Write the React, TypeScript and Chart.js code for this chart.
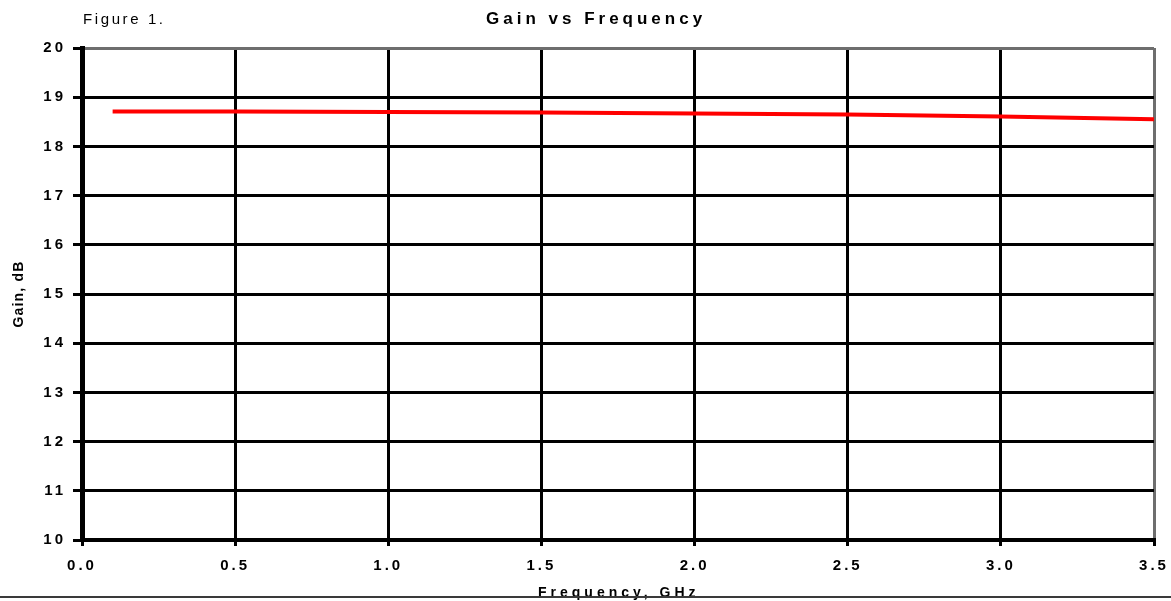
import React, { useEffect, useRef } from 'react';
import { Chart, registerables } from 'chart.js';

Chart.register(...registerables);

// ---- data ----
const frequencies = [0.1, 0.5, 1.0, 1.5, 2.0, 2.5, 3.0, 3.5];
const gains = [18.71, 18.71, 18.7, 18.69, 18.67, 18.65, 18.61, 18.55];
const xTickValues = [0, 0.5, 1.0, 1.5, 2.0, 2.5, 3.0, 3.5];
const yTickValues = [10, 11, 12, 13, 14, 15, 16, 17, 18, 19, 20];
const chartTitle = 'Gain vs Frequency';
const figureLabel = 'Figure 1.';
const xAxisTitle = 'Frequency, GHz';
const yAxisTitle = 'Gain, dB';

const FONT = '"Liberation Sans", Arial, Helvetica, sans-serif';

const textPlugin = {
  id: 'customText',
  beforeDraw(chart: any) {
    chart.ctx.letterSpacing = '3px';
  },
  afterDraw(chart: any) {
    const ctx = chart.ctx as CanvasRenderingContext2D & { letterSpacing: string };
    const { left, top, bottom } = chart.chartArea;
    ctx.save();
    ctx.fillStyle = '#000';
    ctx.textAlign = 'left';
    ctx.textBaseline = 'alphabetic';

    // Figure label
    ctx.letterSpacing = '2.6px';
    ctx.font = `15px ${FONT}`;
    ctx.fillText(figureLabel, left + 1, 24);

    // Title
    ctx.letterSpacing = '4px';
    ctx.font = `bold 17px ${FONT}`;
    ctx.fillText(chartTitle, 486, 24);

    // X axis title
    ctx.letterSpacing = '4px';
    ctx.font = `bold 14px ${FONT}`;
    ctx.fillText(xAxisTitle, 538, 597);

    // Bottom rule
    ctx.fillStyle = '#3a3a3a';
    ctx.fillRect(0, 596, chart.width, 2);

    // Y axis title
    ctx.fillStyle = '#000';
    ctx.letterSpacing = '1.2px';
    ctx.font = `bold 14px ${FONT}`;
    ctx.translate(22.5, (top + bottom) / 2);
    ctx.rotate(-Math.PI / 2);
    ctx.textAlign = 'center';
    ctx.fillText(yAxisTitle, 0, 0);
    ctx.restore();
    ctx.letterSpacing = '0px';
  },
};

export default function App() {
  const canvasRef = useRef<HTMLCanvasElement | null>(null);

  useEffect(() => {
    const canvas = canvasRef.current;
    if (!canvas) return;
    const chart = new Chart(canvas, {
      type: 'line',
      data: {
        datasets: [
          {
            label: 'Gain',
            data: frequencies.map((f, i) => ({ x: f, y: gains[i] })),
            borderColor: '#ff0000',
            borderWidth: 4,
            pointRadius: 0,
            fill: false,
            tension: 0,
          },
        ],
      },
      options: {
        animation: false,
        responsive: false,
        maintainAspectRatio: false,
        layout: { padding: { top: 48, right: 17, left: 0, bottom: 0 } },
        plugins: {
          legend: { display: false },
          title: { display: false },
          tooltip: { enabled: false },
        },
        scales: {
          x: {
            type: 'linear',
            min: 0,
            max: 3.5,
            afterFit: (scale: any) => {
              scale.height = 61;
              scale.paddingLeft = 0;
              scale.paddingRight = 0;
            },
            afterBuildTicks: (scale: any) => {
              scale.ticks = xTickValues.map((v) => ({ value: v }));
            },
            ticks: {
              color: '#000',
              font: { family: FONT, size: 15, weight: 'bold' },
              padding: 11,
              maxRotation: 0,
              autoSkip: false,
              callback: (v: any) => Number(v).toFixed(1),
            },
            grid: {
              color: (c: any) => (c.tick && c.tick.value === 3.5 ? '#6e6e6e' : '#000'),
              lineWidth: 3,
              tickLength: 6,
              tickColor: '#000',
              tickWidth: 3,
            },
            border: { color: '#000', width: 4 },
          },
          y: {
            type: 'linear',
            min: 10,
            max: 20,
            afterFit: (scale: any) => {
              scale.width = 82;
              scale.paddingTop = 0;
              scale.paddingBottom = 0;
            },
            afterBuildTicks: (scale: any) => {
              scale.ticks = yTickValues.map((v) => ({ value: v }));
            },
            ticks: {
              color: '#000',
              font: { family: FONT, size: 15, weight: 'bold' },
              padding: 7,
              autoSkip: false,
              callback: (v: any) => String(v),
            },
            grid: {
              color: (c: any) => (c.tick && c.tick.value === 20 ? '#6e6e6e' : '#000'),
              lineWidth: 3,
              tickLength: 9,
              tickColor: '#000',
              tickWidth: 3,
            },
            border: { color: '#000', width: 5 },
          },
        },
      },
      plugins: [textPlugin],
    });
    return () => chart.destroy();
  }, []);

  return (
    <div style={{ position: 'absolute', left: 0, top: 0, width: 1171, height: 601, background: '#fff' }}>
      <canvas ref={canvasRef} width={1171} height={601} style={{ display: 'block' }} />
    </div>
  );
}
